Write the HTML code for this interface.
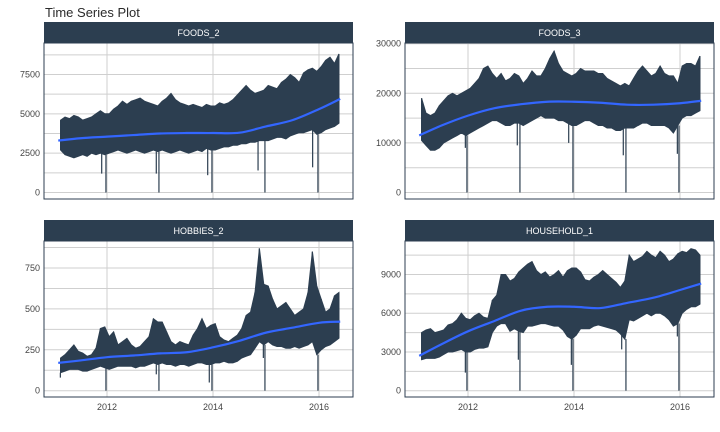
<!DOCTYPE html>
<html><head><meta charset="utf-8"><style>
html,body{margin:0;padding:0;background:#fff;}
svg{display:block;font-family:"Liberation Sans",Arial,sans-serif;}
</style></head><body>
<svg id="chart" width="720" height="432" viewBox="0 0 720 432" xmlns="http://www.w3.org/2000/svg">
<text x="45" y="17" font-size="13" fill="#2b2b2b">Time Series Plot</text>
</svg>
<script>
// ---- data (monthly envelopes, Feb 2011 .. May 2016) ----
const panelNames = ["FOODS_2","FOODS_3","HOBBIES_2","HOUSEHOLD_1"];
const foods2Hi = [4600,4800,4700,4900,4800,4600,4700,4800,5000,5200,5000,
5000,5300,5500,5800,5600,5800,5900,6000,5800,5700,5600,5500,
5800,6000,6300,5900,5700,5600,5500,5600,5500,5400,5600,5500,
5500,5700,5600,5700,5900,6200,6500,6800,6500,6300,6400,6500,
6800,6700,6600,7000,7200,7500,7300,7000,7600,7800,7900,7700,
8000,8400,8600,8200,8800];
const foods2Lo = [2700,2400,2300,2200,2300,2400,2300,2500,2400,2500,2400,
2500,2600,2700,2600,2500,2600,2700,2600,2500,2600,2700,2600,
2700,2600,2500,2600,2700,2600,2500,2600,2700,2600,2800,2700,
2700,2800,2900,2900,3000,3000,3100,3100,3200,3200,3300,3300,
3300,3400,3500,3500,3400,3600,3700,3800,3800,3900,4000,3700,
3800,4000,4100,4200,4400];
const foods3Hi = [19000,16000,15500,16000,17500,18500,19500,20000,19500,20000,20500,
21000,22000,23000,25000,25500,24000,23000,24000,22500,23000,24000,23500,
22000,23000,24500,23500,23500,25000,27000,28500,26000,24500,24000,23500,
24000,25000,24500,24500,24500,24000,24000,23000,22500,22000,21500,22000,
21500,23000,24500,25500,24500,23500,24000,25500,24000,23500,23500,22000,
25500,26000,26000,25500,27500];
const foods3Lo = [10500,9500,8500,8500,9000,10000,10500,11000,11500,12000,11500,
12000,12500,13000,13500,14000,14500,14500,14000,13500,13500,14000,14000,
13500,14000,14500,15000,15500,15000,15000,15000,14500,14500,14000,13500,
13500,14000,14500,14500,14000,13500,13500,13000,13000,12500,12500,13000,
13000,13000,13500,14000,14000,13500,13500,13500,13500,13000,12000,13500,
15000,15500,15500,16000,16500];
const hobbies2Hi = [200,220,250,280,240,230,210,220,260,380,390,
330,360,280,300,320,280,260,270,300,330,440,420,
420,360,300,280,300,290,280,340,380,440,380,400,
410,330,310,300,320,340,380,460,480,600,870,650,
640,560,500,520,540,500,460,480,500,600,850,640,
560,480,500,580,600];
const hobbies2Lo = [110,120,130,130,130,120,120,130,140,150,140,
130,140,150,150,150,150,140,150,150,160,170,160,
170,160,160,150,160,160,150,160,170,170,160,160,
170,170,180,170,170,180,200,210,220,260,300,280,
300,280,270,270,260,260,270,260,270,280,300,220,
250,270,280,300,320];
const household1Hi = [4500,4700,4800,4500,4600,4700,5100,5200,5500,6000,5600,
5500,5800,6000,5700,5600,7000,7400,9000,9000,8500,8700,9200,
9500,9800,10000,9300,9000,9200,8800,9000,9300,8800,9300,9500,
9500,9200,8600,8500,8800,9000,9300,9000,8700,8400,8000,8500,
10500,10000,10200,10400,10800,10500,10300,10800,10500,10000,10200,10600,
10800,10700,11000,10900,10500];
const household1Lo = [2400,2500,2500,2500,2600,2800,3000,3000,3100,3200,3000,
3000,3200,3300,3300,3400,4500,5000,5200,5200,4600,4800,4600,
4500,5000,5000,5100,5200,5200,5100,5000,5000,4700,4200,4000,
4300,4800,4800,4800,5000,5100,5000,4900,4800,4700,4400,4000,
5500,5400,5600,5800,6000,5800,6000,6000,5800,5500,5000,5200,
6000,6300,6500,6500,6700];
// trend (smoother) knots
const trendTimes = [2011.08,2011.5,2012,2012.5,2013,2013.5,2014,2014.5,2015,2015.5,2016,2016.4];
const foods2Trend = [3300,3450,3550,3650,3750,3780,3780,3800,4200,4600,5300,5950];
const foods3Trend = [11500,13500,15500,17000,17800,18300,18300,18100,17700,17700,18000,18500];
const hobbies2Trend = [170,185,205,215,228,235,265,305,355,385,415,422];
const household1Trend = [2700,3600,4600,5400,6200,6500,6500,6400,6800,7200,7800,8300];
// holiday dips (Christmas closures) and pre-holiday lows
const christmasTimes = [2011.98,2012.98,2013.98,2014.98,2015.98];
const christmasValues = [0,0,0,0,0];
const foods2DipTimes = [2011.9,2012.93,2013.9,2014.85,2015.88];
const foods2DipValues = [1200,1200,1100,1400,1600];
const foods3DipTimes = [2011.95,2012.93,2013.9,2014.93,2015.95];
const foods3DipValues = [9000,9500,10000,7500,7800];
const hobbies2DipTimes = [2011.12,2012.93,2013.93,2014.95,2015.95];
const hobbies2DipValues = [80,100,50,200,220];
const household1DipTimes = [2011.95,2012.95,2013.95,2014.9,2015.95];
const household1DipValues = [1400,2400,2000,3200,4200];
const xTickYears = [2012,2014,2016];
const foods2Ticks = [0,2500,5000,7500];
const foods3Ticks = [0,10000,20000,30000];
const hobbies2Ticks = [0,250,500,750];
const household1Ticks = [0,3000,6000,9000];

const months = [];
for (let i = 0; i < foods2Hi.length; i++) months.push(2011 + (1 + i + 0.5) / 12);

const NS = "http://www.w3.org/2000/svg";
const svg = document.getElementById("chart");
function mk(tag, attrs, parent) {
  const e = document.createElementNS(NS, tag);
  for (const k in attrs) e.setAttribute(k, attrs[k]);
  (parent || svg).appendChild(e);
  return e;
}
const panels = [
  {name:panelNames[0], x0:44, x1:353, y0:43, y1:199, sy:22, z:192.5, top:7500, topY:74.5, hi:foods2Hi, lo:foods2Lo, tr:foods2Trend, dt:foods2DipTimes, dv:foods2DipValues, ticks:foods2Ticks, xlab:false},
  {name:panelNames[1], x0:405, x1:714, y0:43, y1:199, sy:22, z:192.5, top:30000, topY:43.7, hi:foods3Hi, lo:foods3Lo, tr:foods3Trend, dt:foods3DipTimes, dv:foods3DipValues, ticks:foods3Ticks, xlab:false},
  {name:panelNames[2], x0:44, x1:353, y0:241, y1:397, sy:220, z:390.7, top:750, topY:268, hi:hobbies2Hi, lo:hobbies2Lo, tr:hobbies2Trend, dt:hobbies2DipTimes, dv:hobbies2DipValues, ticks:hobbies2Ticks, xlab:true},
  {name:panelNames[3], x0:405, x1:714, y0:241, y1:397, sy:220, z:390.7, top:9000, topY:274.5, hi:household1Hi, lo:household1Lo, tr:household1Trend, dt:household1DipTimes, dv:household1DipValues, ticks:household1Ticks, xlab:true}
];
panels.forEach(p => {
  const xs = t => p.x0 + 63 + (t - 2012) * 53;
  const ys = v => p.z - v * (p.z - p.topY) / p.top;
  const g = mk("g", {});
  
  
  // gridlines (major + minor)
  const step = p.ticks[1] - p.ticks[0];
  for (let v = 0; ; v += step / 2) {
    const y = ys(v);
    if (y < p.y0) break;
    const gl = mk("line", {x1:p.x0, x2:p.x1, y1:y, y2:y, stroke:"#cfcfcf", "stroke-width":1}, g);
    
    
  }
  xTickYears.forEach(yr => {
    const x = xs(yr);
    const gl = mk("line", {x1:x, x2:x, y1:p.y0, y2:p.y1, stroke:"#cfcfcf", "stroke-width":1}, g);
    
    
    if (p.xlab) {
      const t = mk("text", {x:x, y:p.y1 + 13, "font-size":9, fill:"#444", "text-anchor":"middle"}, g);
      t.textContent = yr;
      
      
    }
  });
  p.ticks.forEach(v => {
    const t = mk("text", {x:p.x0 - 4, y:ys(v) + 3, "font-size":9, fill:"#444", "text-anchor":"end"}, g);
    t.textContent = v;
    
    
  });
  // series band
  let d = "";
  months.forEach((t, i) => { d += (i ? "L" : "M") + xs(t).toFixed(1) + "," + ys(p.hi[i]).toFixed(1); });
  for (let i = months.length - 1; i >= 0; i--) d += "L" + xs(months[i]).toFixed(1) + "," + ys(p.lo[i]).toFixed(1);
  const band = mk("path", {d:d + "Z", fill:"#2c3e50", stroke:"#2c3e50", "stroke-width":1, "stroke-linejoin":"miter"}, g);
  
  
  months.forEach((t, i) => {
    const s = mk("line", {x1:xs(t), x2:xs(t), y1:ys(p.hi[i]), y2:ys(p.lo[i]), stroke:"#2c3e50", "stroke-width":1.2}, g);
    
    
  });
  christmasTimes.forEach((t, i) => {
    const idx = Math.min(months.length - 1, Math.max(0, Math.round((t - 2011) * 12 - 1.5)));
    const s = mk("line", {x1:xs(t), x2:xs(t), y1:ys(p.lo[idx]), y2:ys(christmasValues[i]), stroke:"#2c3e50", "stroke-width":1.2}, g);
    
    
  });
  p.dt.forEach((t, i) => {
    const idx = Math.min(months.length - 1, Math.max(0, Math.round((t - 2011) * 12 - 1.5)));
    const s = mk("line", {x1:xs(t), x2:xs(t), y1:ys(p.lo[idx]), y2:ys(p.dv[i]), stroke:"#2c3e50", "stroke-width":1.2}, g);
    
    
  });
  // trend (Catmull-Rom smoothing)
  const pts = trendTimes.map((t, i) => [xs(t), ys(p.tr[i])]);
  let td = "M" + pts[0][0] + "," + pts[0][1];
  for (let i = 0; i < pts.length - 1; i++) {
    const a = pts[Math.max(0, i - 1)], b = pts[i], c = pts[i + 1], e = pts[Math.min(pts.length - 1, i + 2)];
    td += "C" + (b[0] + (c[0] - a[0]) / 6) + "," + (b[1] + (c[1] - a[1]) / 6) + " " + (c[0] - (e[0] - b[0]) / 6) + "," + (c[1] - (e[1] - b[1]) / 6) + " " + c[0] + "," + c[1];
  }
  const tl = mk("path", {d:td, fill:"none", stroke:"#3366ff", "stroke-width":2.2}, g);
  
  
  // border
  const br = mk("rect", {x:p.x0, y:p.y0, width:p.x1 - p.x0, height:p.y1 - p.y0, fill:"none", stroke:"#2c3e50", "stroke-width":1}, g);
  
  
  // strip
  const st = mk("rect", {x:p.x0, y:p.sy, width:p.x1 - p.x0, height:p.y0 - p.sy, fill:"#2c3e50"}, g);
  
  
  const sl = mk("text", {x:(p.x0 + p.x1) / 2, y:p.sy + 14, "font-size":9, fill:"#fff", "text-anchor":"middle"}, g);
  sl.textContent = p.name;
  
  
});
</script>
</body></html>
